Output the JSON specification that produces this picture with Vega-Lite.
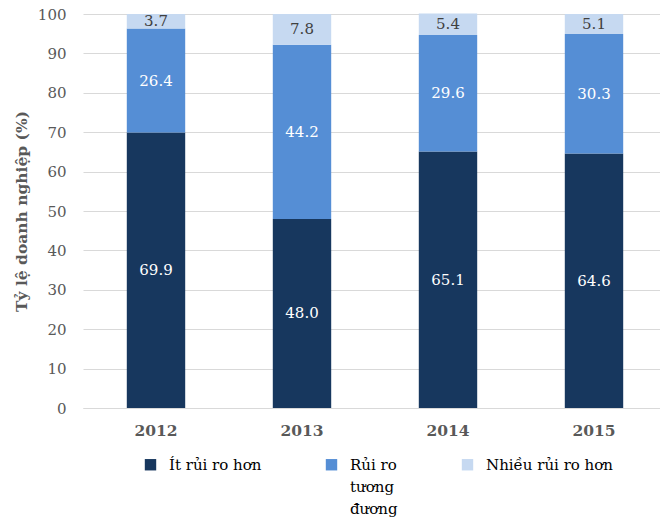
{
  "$schema": "https://vega.github.io/schema/vega-lite/v6.json",
  "width": 577,
  "height": 394,
  "autosize": "none",
  "padding": {"left": 83, "top": 14, "right": 0, "bottom": 112},
  "background": "white",
  "config": {
    "font": "DejaVu Serif",
    "view": {"stroke": null}
  },
  "data": {
    "values": [
      {"year": "2012", "cat": "Ít rủi ro hơn", "ord": 1, "value": 69.9},
      {"year": "2012", "cat": "Rủi ro tương đương", "ord": 2, "value": 26.4},
      {"year": "2012", "cat": "Nhiều rủi ro hơn", "ord": 3, "value": 3.7},
      {"year": "2013", "cat": "Ít rủi ro hơn", "ord": 1, "value": 48.0},
      {"year": "2013", "cat": "Rủi ro tương đương", "ord": 2, "value": 44.2},
      {"year": "2013", "cat": "Nhiều rủi ro hơn", "ord": 3, "value": 7.8},
      {"year": "2014", "cat": "Ít rủi ro hơn", "ord": 1, "value": 65.1},
      {"year": "2014", "cat": "Rủi ro tương đương", "ord": 2, "value": 29.6},
      {"year": "2014", "cat": "Nhiều rủi ro hơn", "ord": 3, "value": 5.4},
      {"year": "2015", "cat": "Ít rủi ro hơn", "ord": 1, "value": 64.6},
      {"year": "2015", "cat": "Rủi ro tương đương", "ord": 2, "value": 30.3},
      {"year": "2015", "cat": "Nhiều rủi ro hơn", "ord": 3, "value": 5.1}
    ]
  },
  "transform": [
    {
      "stack": "value",
      "groupby": ["year"],
      "sort": [{"field": "ord", "order": "ascending"}],
      "as": ["v0", "v1"]
    }
  ],
  "encoding": {
    "x": {
      "field": "year",
      "type": "nominal",
      "scale": {"range": [0, 584], "paddingInner": 0.6, "paddingOuter": 0.3},
      "axis": {
        "title": null,
        "labelAngle": 0,
        "labelFont": "DejaVu Serif",
        "labelFontSize": 15.5,
        "labelFontWeight": "bold",
        "labelColor": "#595959",
        "labelPadding": 15,
        "ticks": false,
        "domainColor": "#d9d9d9",
        "domainWidth": 1
      }
    }
  },
  "layer": [
    {
      "mark": {"type": "bar"},
      "encoding": {
        "y": {
          "field": "v0",
          "type": "quantitative",
          "scale": {"domain": [0, 100]},
          "axis": {
            "title": "Tỷ lệ doanh nghiệp (%)",
            "titleFont": "DejaVu Serif",
            "titleFontSize": 15.5,
            "titleFontWeight": "bold",
            "titleColor": "#595959",
            "titlePadding": 8,
            "values": [0, 10, 20, 30, 40, 50, 60, 70, 80, 90, 100],
            "labelFont": "DejaVu Serif",
            "labelFontSize": 15,
            "labelColor": "#595959",
            "labelPadding": 17,
            "ticks": false,
            "domain": false,
            "grid": true,
            "gridColor": "#d9d9d9",
            "gridWidth": 1
          }
        },
        "y2": {"field": "v1"},
        "color": {
          "field": "cat",
          "type": "nominal",
          "scale": {
            "domain": ["Ít rủi ro hơn", "Rủi ro tương đương", "Nhiều rủi ro hơn"],
            "range": ["#17375e", "#558ed5", "#c6d9f1"]
          },
          "legend": {
            "title": null,
            "orient": "none",
            "direction": "horizontal",
            "columns": 3,
            "legendX": 60,
            "legendY": 443,
            "symbolType": "square",
            "symbolSize": 130,
            "symbolStrokeWidth": 0,
            "symbolOpacity": 1,
            "labelFont": "DejaVu Serif",
            "labelFontSize": 15,
            "labelColor": "#000000",
            "labelOffset": 11,
            "labelLimit": 200,
            "columnPadding": 62,
            "labelExpr": "datum.label == 'Rủi ro tương đương' ? ['Rủi ro', 'tương', 'đương'] : [datum.label, ' ', ' ']",
            "encode": {"labels": {"update": {"lineHeight": {"value": 22}}}}
          }
        }
      }
    },
    {
      "transform": [
        {"fold": ["v0", "v1"], "as": ["edge", "pos"]},
        {
          "aggregate": [{"op": "mean", "field": "pos", "as": "mid"}],
          "groupby": ["year", "cat", "value"]
        }
      ],
      "mark": {"type": "text", "font": "DejaVu Serif", "fontSize": 15, "baseline": "middle"},
      "encoding": {
        "y": {
          "field": "mid",
          "type": "quantitative",
          "axis": {
            "title": "Tỷ lệ doanh nghiệp (%)",
            "titleFont": "DejaVu Serif",
            "titleFontSize": 15.5,
            "titleFontWeight": "bold",
            "titleColor": "#595959",
            "titlePadding": 8,
            "values": [0, 10, 20, 30, 40, 50, 60, 70, 80, 90, 100],
            "labelFont": "DejaVu Serif",
            "labelFontSize": 15,
            "labelColor": "#595959",
            "labelPadding": 17,
            "ticks": false,
            "domain": false,
            "grid": true,
            "gridColor": "#d9d9d9",
            "gridWidth": 1
          }
        },
        "text": {"field": "value", "type": "quantitative", "format": ".1f"},
        "color": {
          "condition": {"test": "datum.cat == 'Nhiều rủi ro hơn'", "value": "#404040"},
          "value": "#ffffff"
        }
      }
    }
  ]
}
